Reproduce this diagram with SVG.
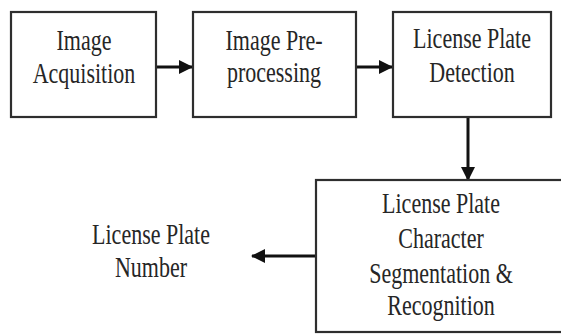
<svg xmlns="http://www.w3.org/2000/svg" width="561" height="335" viewBox="0 0 561 335" font-family="Liberation Serif, Times New Roman, serif">
  <style>
    .box { fill: #ffffff; stroke: #2e2e2e; stroke-width: 2.2; }
    .lbl { font-size: 22px; fill: #262626; text-anchor: middle; }
    .edge { stroke: #111111; stroke-width: 3; fill: none; }
  </style>
  <defs>
    <marker id="arrow" viewBox="0 0 14 14" refX="13" refY="7" markerWidth="14" markerHeight="14" markerUnits="userSpaceOnUse" orient="auto">
      <path d="M0,0 L14,7 L0,14 Z" fill="#111111"/>
    </marker>
  </defs>
  <rect width="561" height="335" fill="#ffffff"/>

  <g id="connectors">
    <line class="edge" x1="157" y1="67" x2="192" y2="67" marker-end="url(#arrow)"/>
    <line class="edge" x1="357" y1="67" x2="392" y2="67" marker-end="url(#arrow)"/>
    <line class="edge" x1="468" y1="118" x2="468" y2="180" marker-end="url(#arrow)"/>
    <line class="edge" x1="316" y1="256" x2="252" y2="256" marker-end="url(#arrow)"/>
  </g>

  <!-- labels are drawn slightly tall: scaled 1.3x vertically -->
  <g id="acquisition">
    <rect class="box" x="11" y="12" width="145" height="105"/>
    <text class="lbl" transform="translate(84,50) scale(1,1.3)">Image</text>
    <text class="lbl" transform="translate(84,83) scale(1,1.3)">Acquisition</text>
  </g>

  <g id="preprocessing">
    <rect class="box" x="193" y="12" width="163" height="105"/>
    <text class="lbl" transform="translate(274,50) scale(1,1.3)">Image Pre-</text>
    <text class="lbl" transform="translate(274,82) scale(1,1.3)">processing</text>
  </g>

  <g id="detection">
    <rect class="box" x="393" y="12" width="158" height="105"/>
    <text class="lbl" transform="translate(472,48) scale(1,1.3)">License Plate</text>
    <text class="lbl" transform="translate(472,82) scale(1,1.3)">Detection</text>
  </g>

  <g id="segmentation">
    <rect class="box" x="316" y="180" width="252" height="152"/>
    <text class="lbl" transform="translate(441,213) scale(1,1.3)">License Plate</text>
    <text class="lbl" transform="translate(441,248) scale(1,1.3)">Character</text>
    <text class="lbl" transform="translate(441,283) scale(1,1.3)">Segmentation &amp;</text>
    <text class="lbl" transform="translate(441,315) scale(1,1.3)">Recognition</text>
  </g>

  <g id="plate-number">
    <text class="lbl" transform="translate(151,244) scale(1,1.3)">License Plate</text>
    <text class="lbl" transform="translate(151,277) scale(1,1.3)">Number</text>
  </g>
</svg>
